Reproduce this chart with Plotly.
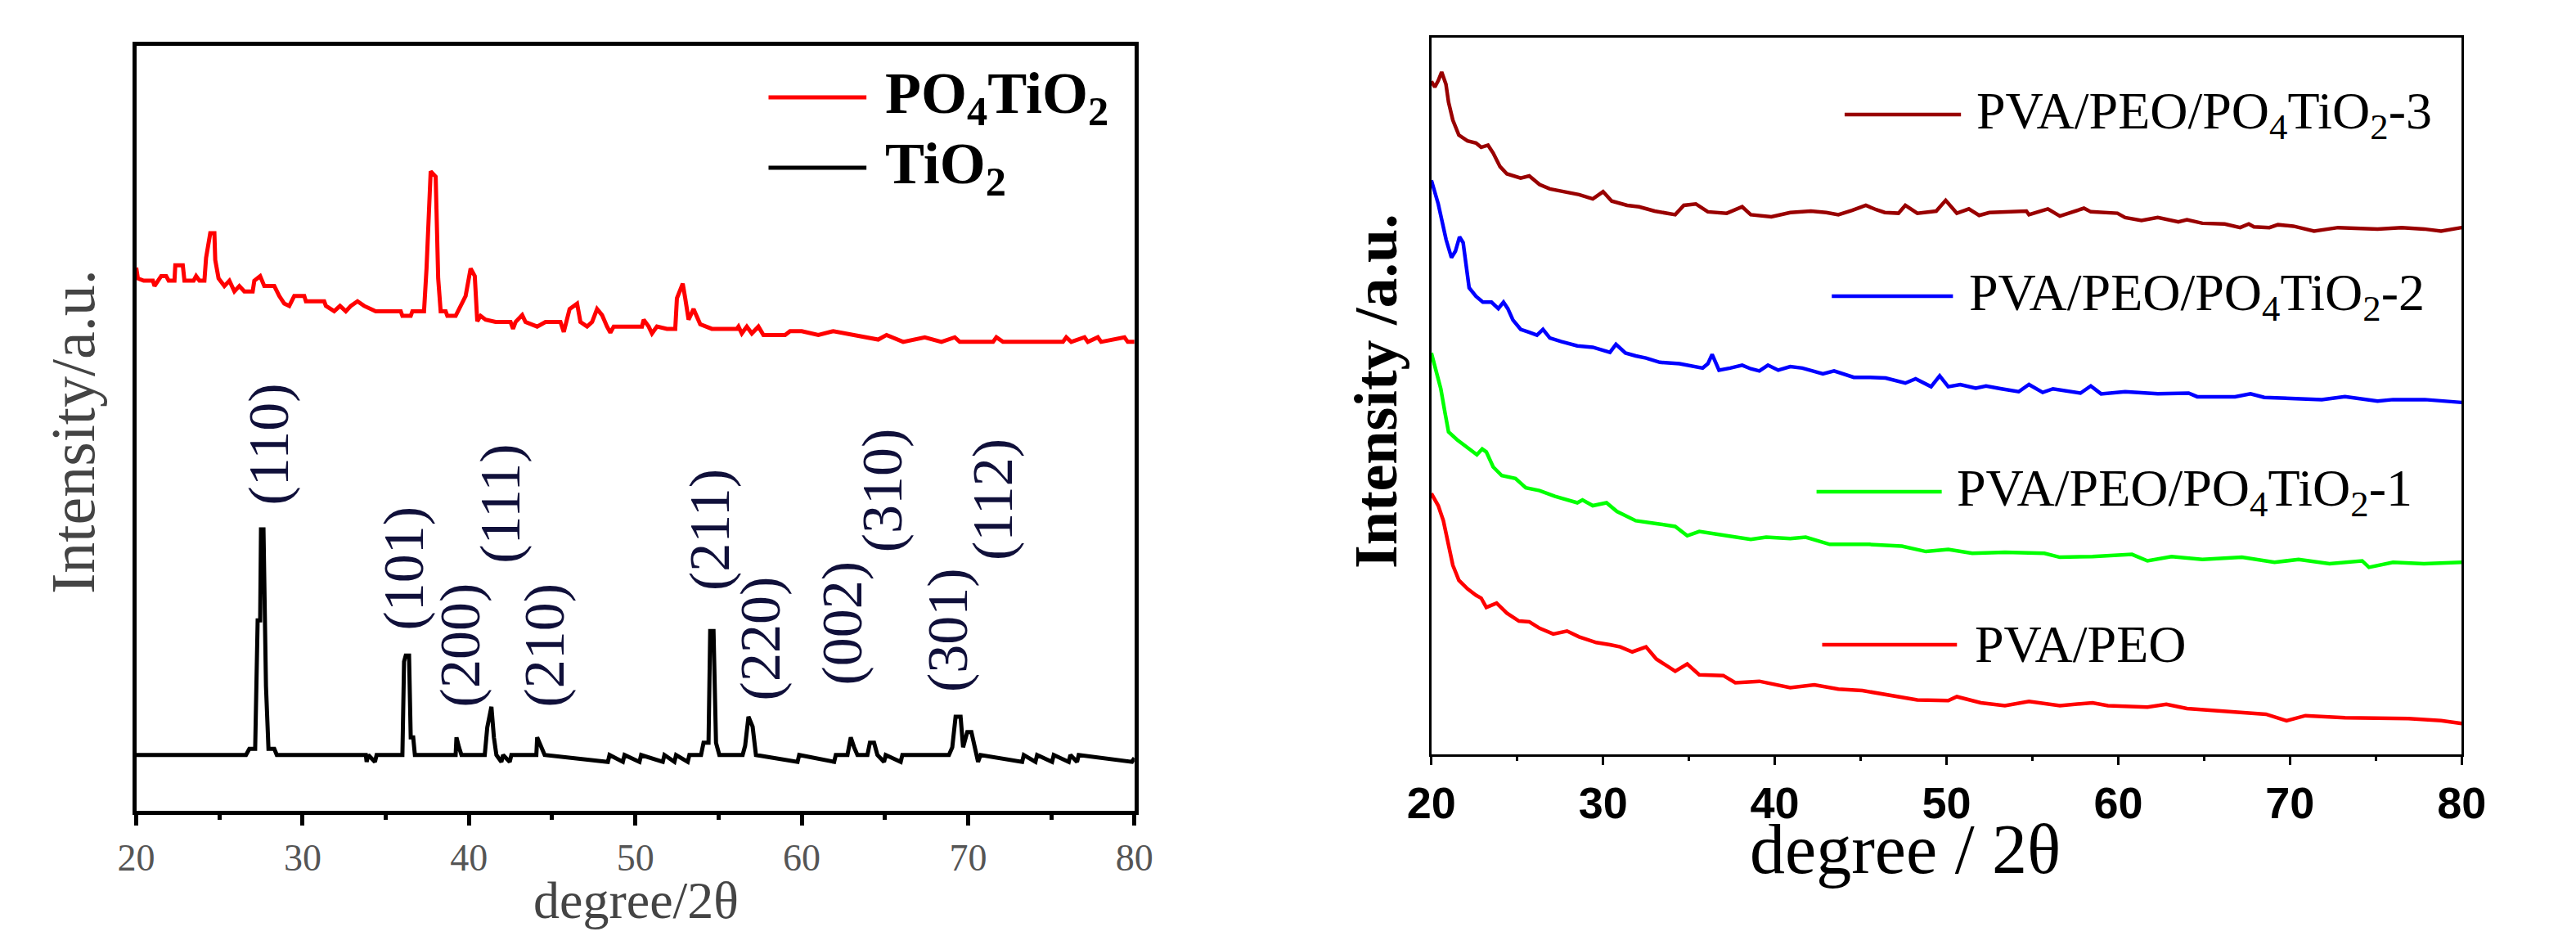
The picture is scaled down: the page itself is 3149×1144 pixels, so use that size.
import plotly.graph_objects as go

W, H = 3149, 1144

# ---- left panel: XRD of TiO2 and PO4TiO2 ----
tio2_x = [20.0, 26.6, 26.8, 27.15, 27.3, 27.45, 27.5, 27.65, 27.8, 27.95, 28.3, 28.45,
          33.8, 33.85, 33.95, 34.35, 34.45, 36.0, 36.1, 36.2, 36.4, 36.5, 36.65, 36.75,
          39.2, 39.25, 39.4, 39.55, 40.95, 41.1, 41.35, 41.5, 41.65, 41.95, 42.05, 42.45, 42.55,
          44.05, 44.1, 44.35, 44.55, 48.35, 48.45, 49.25, 49.35, 50.25, 50.35, 51.65, 51.75,
          52.35, 52.45, 53.15, 53.25, 53.95, 54.1, 54.4, 54.5, 54.7, 54.85, 55.05,
          56.45, 56.6, 56.8, 57.05, 57.25, 59.75, 59.85, 61.95, 62.05,
          62.75, 62.95, 63.15, 63.35, 63.95, 64.1, 64.35, 64.55, 64.95, 65.05, 65.95, 66.05,
          68.85, 69.05, 69.25, 69.55, 69.7, 69.95, 70.2, 70.4, 70.6, 70.75,
          73.25, 73.35, 74.05, 74.15, 75.05, 75.15, 76.05, 76.15, 76.55, 76.65, 79.85, 80.0]
tio2_y = [7.3, 7.3, 8.1, 8.1, 24.9, 24.9, 36.8, 36.8, 16.3, 8.1, 8.1, 7.3,
          7.3, 6.4, 7.3, 6.4, 7.3, 7.3, 19.5, 20.3, 20.3, 9.6, 9.6, 7.3,
          7.3, 9.6, 8.3, 7.3, 7.3, 10.9, 13.6, 9.6, 7.3, 6.4, 7.3, 6.4, 7.3,
          7.3, 9.6, 8.3, 7.3, 6.4, 7.3, 6.4, 7.3, 6.4, 7.3, 6.4, 7.3,
          6.4, 7.3, 6.4, 7.3, 7.3, 8.9, 8.9, 23.5, 23.5, 8.9, 7.3,
          7.3, 8.5, 12.3, 11.0, 7.3, 6.4, 7.3, 6.4, 7.3,
          7.3, 9.6, 8.3, 7.3, 7.3, 8.9, 8.9, 7.3, 6.4, 7.3, 6.4, 7.3,
          7.3, 8.3, 12.3, 12.3, 8.3, 10.3, 10.3, 8.3, 6.4, 7.3,
          6.4, 7.3, 6.4, 7.3, 6.4, 7.3, 6.4, 7.3, 6.4, 7.3, 6.4, 6.9]

po4_x = [20.0, 20.1, 20.45, 21.0, 21.1, 21.3, 21.5, 21.8, 21.95, 22.3, 22.35, 22.8, 22.9,
         23.45, 23.6, 23.8, 24.1, 24.2, 24.45, 24.7, 24.75, 24.95, 25.3, 25.6, 25.9, 26.2,
         26.5, 27.0, 27.1, 27.45, 27.7, 28.3, 28.6, 28.9, 29.2, 29.5, 30.1, 30.2, 31.3, 31.4,
         31.9, 32.25, 32.6, 32.9, 33.3, 33.7, 34.4, 35.9, 36.0, 36.5, 36.6, 37.3, 37.45, 37.7,
         38.0, 38.15, 38.3, 38.6, 38.7, 39.2, 39.8, 40.1, 40.35, 40.5, 40.7,
         41.0, 41.6, 42.5, 42.65, 42.8, 43.2, 43.4, 44.1, 44.6, 45.5, 45.7, 46.05, 46.5, 46.7,
         47.1, 47.4, 47.7, 48.0, 48.3, 48.5, 48.7, 50.4, 50.5, 50.8, 51.0, 51.3, 51.9, 52.4,
         52.5, 52.85, 53.0, 53.2, 53.5, 53.9, 54.6, 56.1, 56.2, 56.4, 56.7, 57.0, 57.4, 57.7,
         59.0, 59.3, 60.0, 61.0, 61.9, 63.05, 64.6, 65.1, 66.1, 67.4, 68.4, 69.2, 69.5, 71.5,
         71.7, 72.1, 75.7, 75.9, 76.2, 77.0, 77.2, 77.8, 78.0, 79.4, 79.6, 80.0]
po4_y = [71.0, 69.6, 69.3, 69.3, 68.6, 69.3, 69.9, 69.9, 69.3, 69.3, 71.3, 71.3, 69.3,
         69.3, 69.9, 69.3, 69.3, 72.3, 75.5, 75.5, 72.0, 69.6, 68.6, 69.3, 67.9, 68.6,
         67.9, 67.9, 69.3, 69.9, 68.6, 68.6, 67.3, 66.3, 66.0, 67.3, 67.3, 66.6, 66.6, 66.0,
         65.3, 66.0, 65.3, 66.0, 66.6, 66.0, 65.3, 65.3, 64.7, 64.7, 65.3, 65.3, 70.9, 83.6,
         82.9, 69.6, 65.3, 65.3, 64.7, 64.7, 67.3, 70.9, 69.9, 64.0, 64.7,
         64.2, 63.9, 63.9, 63.0, 63.9, 64.8, 63.9, 63.3, 63.9, 63.9, 62.6, 65.6, 66.3, 63.9,
         63.3, 63.9, 65.6, 64.8, 63.3, 62.5, 63.3, 63.3, 64.2, 63.3, 62.4, 63.3, 63.0, 63.0,
         67.0, 68.9, 67.0, 64.2, 65.6, 63.6, 63.0, 63.0, 63.3, 62.4, 63.3, 62.4, 63.3, 62.2,
         62.2, 62.7, 62.7, 62.2, 62.7, 62.2, 61.6, 62.2, 61.3, 61.9, 61.3, 61.9, 61.3, 61.3,
         61.9, 61.3, 61.3, 61.9, 61.3, 61.9, 61.3, 61.9, 61.3, 61.9, 61.3, 61.3]

hkl_labels = ["(110)", "(101)", "(200)", "(111)", "(210)", "(211)", "(220)", "(002)", "(310)", "(301)", "(112)"]
hkl_x = [27.96, 36.1, 39.46, 41.84, 44.53, 54.5, 57.53, 62.44, 64.82, 68.78, 71.48]
hkl_y = [47.9, 31.7, 21.7, 40.1, 21.7, 36.7, 22.5, 24.5, 41.9, 23.6, 40.7]

# ---- right panel: PVA/PEO films ----
s3_x = [20.0, 20.2, 20.4, 20.6, 20.85, 21.0, 21.25, 21.6, 22.1, 22.6, 22.9, 23.3, 23.6, 24.0,
        24.4, 25.2, 25.7, 26.3, 26.9, 27.9, 28.6, 29.4, 30.0, 30.5, 31.4, 32.1, 33.0, 34.2,
        34.7, 35.4, 36.1, 37.2, 38.1, 38.6, 39.8, 40.9, 42.1, 43.0, 43.7, 44.5, 45.3, 45.9,
        46.4, 47.2, 47.6, 48.3, 49.4, 49.95, 50.6, 51.3, 51.9, 52.5, 53.5, 54.65, 54.8, 55.9,
        56.6, 57.3, 58.0, 58.4, 59.95, 60.4, 61.35, 62.3, 63.5, 64.0, 64.9, 66.2, 67.1, 67.6,
        67.9, 68.8, 69.3, 70.2, 71.4, 72.8, 75.1, 76.5, 77.8, 78.8, 80.0]
s3_y = [93.9, 93.1, 94.0, 95.2, 93.5, 91.0, 88.5, 86.4, 85.6, 85.3, 84.7, 85.0, 83.9, 82.0,
        81.0, 80.4, 80.7, 79.5, 78.9, 78.5, 78.1, 77.5, 78.5, 77.2, 76.6, 76.4, 75.8, 75.3,
        76.6, 76.8, 75.7, 75.5, 76.4, 75.3, 75.0, 75.6, 75.8, 75.6, 75.3, 75.9, 76.6, 76.0,
        75.6, 75.5, 76.6, 75.5, 75.8, 77.3, 75.5, 76.1, 75.2, 75.6, 75.7, 75.8, 75.3, 76.1,
        75.1, 75.6, 76.2, 75.7, 75.5, 74.9, 74.5, 74.9, 74.3, 74.6, 74.1, 74.0, 73.5, 74.0,
        73.6, 73.5, 73.9, 73.7, 73.0, 73.5, 73.3, 73.5, 73.3, 73.0, 73.5]

s2_x = [20.0, 20.4, 20.86, 21.17, 21.4, 21.64, 21.85, 22.0, 22.2, 22.6, 23.0, 23.5, 23.9, 24.2,
        24.45, 24.75, 25.2, 25.7, 26.15, 26.5, 26.9, 27.55, 28.5, 29.4, 30.4, 30.75, 31.3, 31.9,
        32.5, 33.3, 34.45, 35.8, 36.1, 36.35, 36.75, 37.4, 38.1, 38.6, 39.1, 39.6, 40.2, 40.9,
        41.6, 42.2, 42.8, 43.45, 44.6, 45.5, 46.45, 47.6, 48.2, 49.1, 49.6, 50.1, 50.8, 51.7,
        52.3, 53.2, 54.2, 54.8, 55.6, 56.2, 57.8, 58.4, 59.0, 60.4, 62.3, 64.1, 64.6, 66.8,
        67.7, 68.5, 70.2, 71.85, 73.2, 75.1, 76.0, 77.85, 80.0]
s2_y = [80.1, 76.8, 71.8, 69.3, 70.2, 72.2, 71.4, 68.5, 65.1, 63.9, 63.1, 63.1, 62.2, 63.1,
        62.2, 60.6, 59.3, 58.9, 58.5, 59.3, 58.1, 57.6, 57.0, 56.8, 56.1, 57.2, 56.0, 55.6,
        55.3, 54.7, 54.5, 53.9, 54.5, 55.8, 53.6, 53.9, 54.3, 53.8, 53.5, 54.3, 53.6, 54.1,
        53.9, 53.5, 53.1, 53.5, 52.6, 52.6, 52.5, 51.8, 52.4, 51.3, 52.8, 51.3, 51.6, 51.1,
        51.4, 51.0, 50.6, 51.6, 50.5, 51.0, 50.4, 51.4, 50.3, 50.6, 50.3, 50.4, 49.9, 49.9,
        50.3, 49.8, 49.7, 49.5, 49.9, 49.3, 49.5, 49.5, 49.1]

s1_x = [20.0, 20.2, 20.55, 20.8, 21.0, 21.5, 21.95, 22.4, 22.65, 22.96, 23.2, 23.6, 24.1, 24.9,
        25.5, 26.3, 27.2, 28.5, 28.8, 29.4, 30.2, 30.8, 31.9, 33.1, 34.2, 34.9, 35.6, 37.2,
        38.6, 39.5, 40.9, 41.8, 43.2, 45.5, 47.4, 48.8, 50.1, 51.5, 53.4, 55.7, 56.6, 58.5,
        60.8, 61.7, 63.1, 64.9, 67.2, 69.1, 70.5, 72.3, 74.2, 74.6, 76.0, 77.8, 80.0]
s1_y = [56.0, 54.3, 51.0, 47.6, 45.0, 43.9, 43.1, 42.2, 41.8, 42.6, 42.2, 40.1, 38.9, 38.5,
        37.2, 36.8, 36.0, 35.1, 35.5, 34.7, 35.1, 33.9, 32.6, 32.2, 31.8, 30.5, 31.1, 30.5,
        30.0, 30.3, 30.1, 30.3, 29.3, 29.3, 29.05, 28.3, 28.6, 28.05, 28.2, 28.05, 27.5, 27.6,
        27.9, 27.0, 27.6, 27.2, 27.5, 26.8, 27.2, 26.6, 27.0, 26.1, 26.8, 26.6, 26.8]

s0_x = [20.0, 20.4, 20.7, 21.0, 21.25, 21.6, 22.1, 22.6, 22.9, 23.2, 23.8, 24.4, 25.1, 25.7,
        26.3, 27.1, 27.9, 28.6, 29.6, 30.4, 31.0, 31.7, 32.5, 33.1, 34.2, 34.9, 35.6, 37.0,
        37.7, 39.1, 40.9, 42.3, 43.7, 45.1, 46.5, 48.3, 50.1, 50.6, 52.0, 53.4, 54.8, 56.6,
        58.5, 59.4, 61.7, 62.8, 64.0, 65.8, 66.8, 68.6, 69.8, 70.9, 73.2, 75.1, 76.9, 78.8, 80.0]
s0_y = [36.4, 34.7, 32.6, 29.3, 26.4, 24.3, 23.1, 22.2, 21.8, 20.5, 21.1, 19.7, 18.6, 18.5,
        17.6, 16.8, 17.2, 16.4, 15.6, 15.3, 15.0, 14.3, 15.0, 13.3, 11.6, 12.6, 11.1, 11.0,
        10.0, 10.2, 9.3, 9.7, 9.1, 8.9, 8.3, 7.6, 7.5, 8.05, 7.2, 6.8, 7.4, 6.8,
        7.2, 6.8, 6.6, 7.0, 6.4, 6.1, 6.0, 5.6, 4.7, 5.4, 5.1, 5.0, 5.0, 4.7, 4.3]

right_names = ["PVA/PEO/PO<sub>4</sub>TiO<sub>2</sub>-3", "PVA/PEO/PO<sub>4</sub>TiO<sub>2</sub>-2",
               "PVA/PEO/PO<sub>4</sub>TiO<sub>2</sub>-1", "PVA/PEO"]
right_colors = ["#990000", "#0000ff", "#00ff00", "#ff0000"]

fig = go.Figure()

fig.add_trace(go.Scatter(x=po4_x, y=po4_y, mode="lines", line=dict(color="#ff0000", width=5),
                         xaxis="x", yaxis="y", showlegend=False))
fig.add_trace(go.Scatter(x=tio2_x, y=tio2_y, mode="lines", line=dict(color="#000000", width=5),
                         xaxis="x", yaxis="y", showlegend=False))

for xs, ys, c in zip([s3_x, s2_x, s1_x, s0_x], [s3_y, s2_y, s1_y, s0_y], right_colors):
    fig.add_trace(go.Scatter(x=xs, y=ys, mode="lines", line=dict(color=c, width=4.5),
                             xaxis="x2", yaxis="y2", showlegend=False))

serif = "Liberation Serif"
ann = []
# Miller indices, written upward beside each peak
for lab, hx, hy in zip(hkl_labels, hkl_x, hkl_y):
    ann.append(dict(x=hx, y=hy, xref="x", yref="y", text=lab, showarrow=False, textangle=-90,
                    xanchor="center", yanchor="middle",
                    font=dict(family=serif, size=70, color="#10103a")))


def paper_text(px, py, text, size, color, angle=0, weight="normal", xa="center"):
    return dict(x=px / W, y=1 - py / H, xref="paper", yref="paper", text=text, showarrow=False,
                textangle=angle, xanchor=xa, yanchor="middle",
                font=dict(family=serif, size=size, color=color, weight=weight))


# axis titles
ann.append(paper_text(754, 1092, "degree/2θ", 64, "#444444"))
ann.append(paper_text(52, 520, "Intensity/a.u.", 76, "#444444", angle=-90))
ann.append(paper_text(2336, 1030, "degree / 2θ", 86, "black"))
ann.append(paper_text(1676, 470, "Intensity /a.u.", 74, "black", angle=-90, weight="bold"))

# left legend
shapes = []
for name, c, ly in [("PO<sub>4</sub>TiO<sub>2</sub>", "#ff0000", 111), ("TiO<sub>2</sub>", "#000000", 197)]:
    shapes.append(dict(type="line", xref="paper", yref="paper", x0=919 / W, x1=1041 / W,
                       y0=1 - ly / H, y1=1 - ly / H, line=dict(color=c, width=5)))
    ann.append(paper_text(1062, ly, name, 72, "black", weight="bold", xa="left"))

# right legend
leg_y = [132, 354, 593, 780]
leg_x0 = [2260, 2244, 2225, 2232]
leg_x1 = [2405, 2395, 2381, 2400]
leg_tx = [2422, 2413, 2398, 2420]
for name, c, ly, a, b, tx in zip(right_names, right_colors, leg_y, leg_x0, leg_x1, leg_tx):
    shapes.append(dict(type="line", xref="paper", yref="paper", x0=a / W, x1=b / W,
                       y0=1 - ly / H, y1=1 - ly / H, line=dict(color=c, width=4.5)))
    ann.append(paper_text(tx, ly, name, 64, "black", xa="left"))

fig.update_layout(
    width=W, height=H, autosize=False,
    margin=dict(l=0, r=0, t=0, b=0),
    paper_bgcolor="white", plot_bgcolor="white",
    xaxis=dict(domain=[131 / W, 1375 / W], anchor="y", range=[20, 80], tick0=20, dtick=10,
               showline=True, linewidth=5, linecolor="black", mirror=True,
               ticks="outside", ticklen=13, tickwidth=5, tickcolor="black",
               minor=dict(dtick=5, ticks="outside", ticklen=6, tickwidth=5, tickcolor="black"),
               tickfont=dict(family=serif, size=46, color="#555555"),
               showgrid=False, zeroline=False),
    yaxis=dict(domain=[1 - 983 / H, 1 - 48 / H], anchor="x", range=[0, 100],
               showline=True, linewidth=5, linecolor="black", mirror=True,
               showticklabels=False, ticks="", showgrid=False, zeroline=False),
    xaxis2=dict(domain=[1745 / W, 3029 / W], anchor="y2", range=[20, 80], tick0=20, dtick=10,
                showline=True, linewidth=3, linecolor="black", mirror=True,
                ticks="outside", ticklen=10, tickwidth=3, tickcolor="black",
                minor=dict(dtick=5, ticks="outside", ticklen=5, tickwidth=3, tickcolor="black"),
                tickfont=dict(family="Liberation Sans", size=54, color="black", weight="bold"),
                showgrid=False, zeroline=False),
    yaxis2=dict(domain=[1 - 914 / H, 1 - 38 / H], anchor="x2", range=[0, 100],
                showline=True, linewidth=3, linecolor="black", mirror=True,
                showticklabels=False, ticks="", showgrid=False, zeroline=False),
    annotations=ann,
    shapes=shapes,
)

fig.write_html("out.html")
